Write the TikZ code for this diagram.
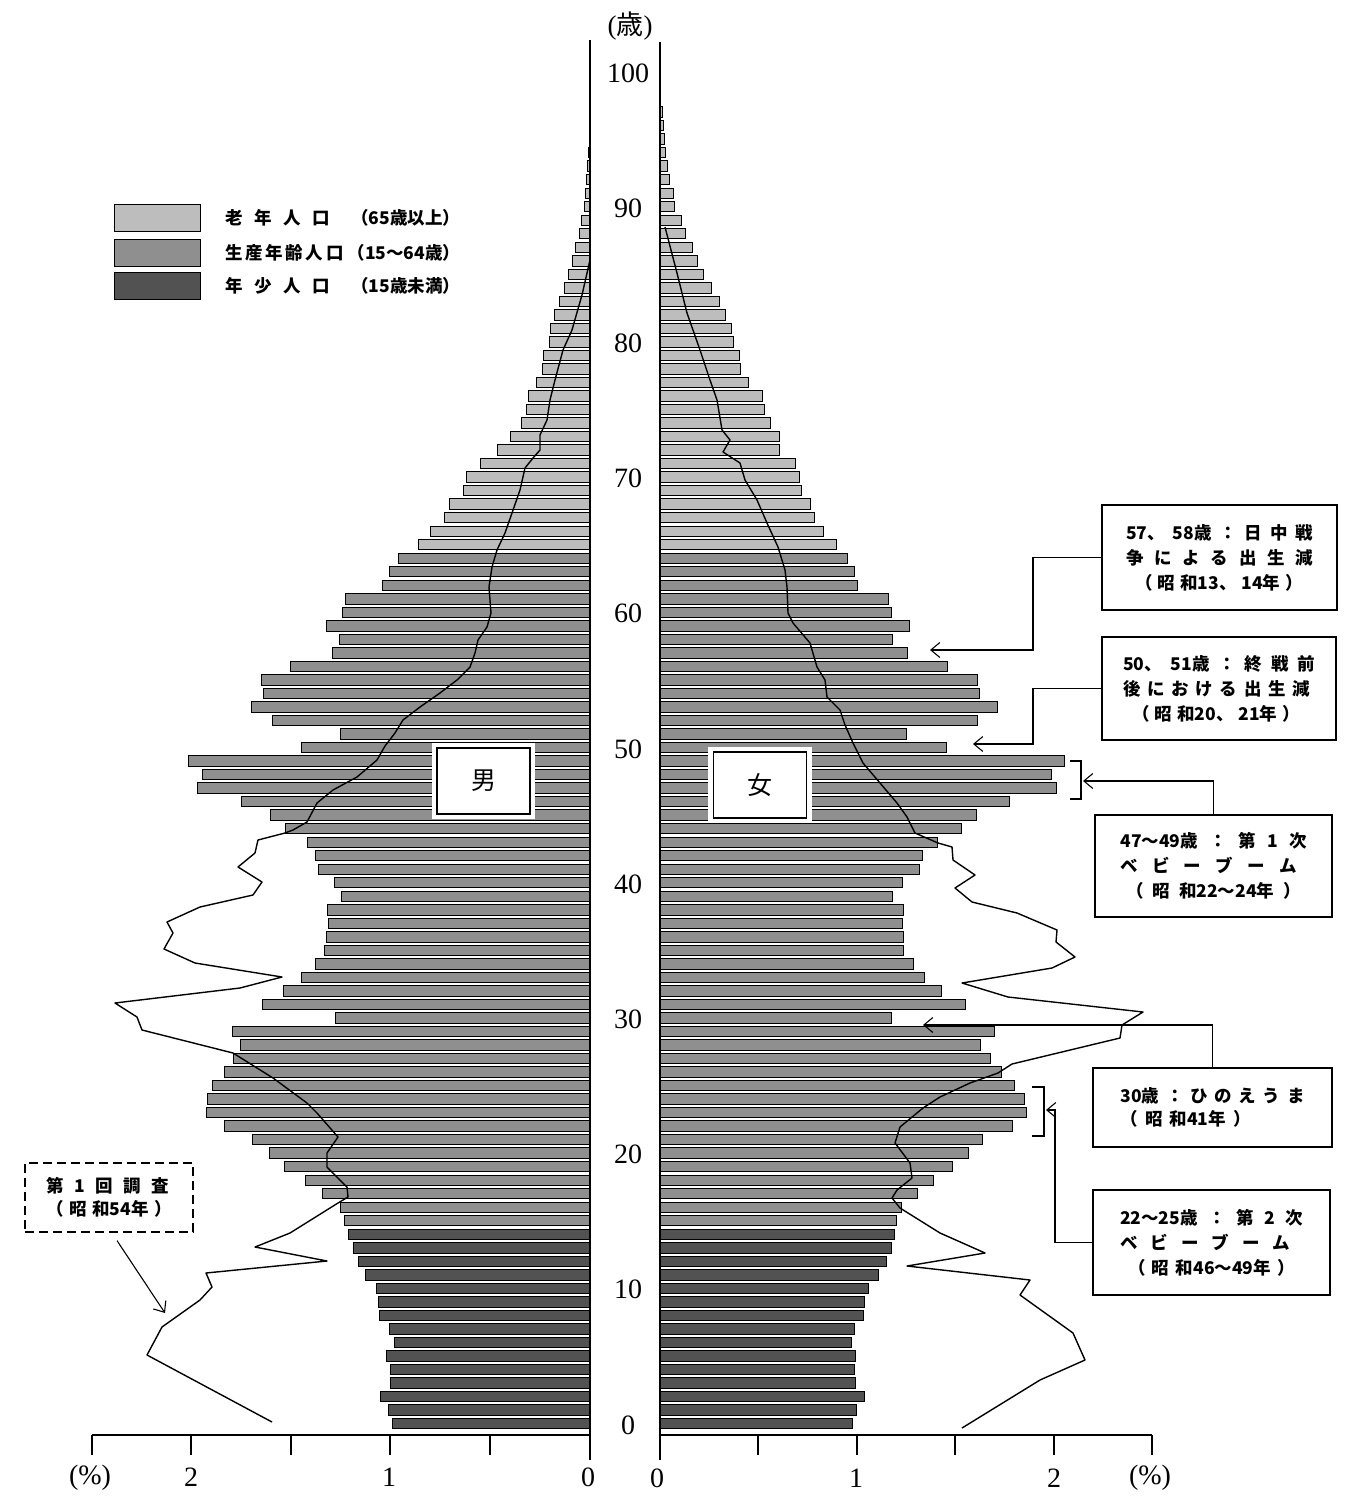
\documentclass[tikz,border=0pt]{standalone}
\usepackage{fontspec}
\setmainfont{Liberation Serif}
\newfontfamily\cjk{Noto Sans CJK JP}
\usetikzlibrary{arrows.meta}
\definecolor{oldc}{gray}{0.74}
\definecolor{workc}{gray}{0.56}
\definecolor{youngc}{gray}{0.32}
\newcommand\spr[2]{\makebox[#1][s]{#2}}
\begin{document}
\begin{tikzpicture}[x=1pt,y=-1pt,
  bar/.style={draw=black,line width=0.9pt},
  pcurve/.style={line width=1.4pt,line join=round},
  annbox/.style={draw,line width=1.2pt,inner sep=0pt,align=left,font=\cjk\bfseries\fontsize{17.5}{25}\selectfont},
  dbox/.style={draw,dash pattern=on 9pt off 5pt,line width=1.2pt,inner sep=0pt,align=left,font=\cjk\bfseries\fontsize{17.5}{23}\selectfont},
  agelab/.style={font=\fontsize{28}{28}\selectfont,inner sep=0pt},
  legbox/.style={draw,line width=1pt,minimum width=86pt,minimum height=27pt,inner sep=0pt},
  legtxt/.style={font=\cjk\bfseries\fontsize{17.5}{20}\selectfont,inner sep=0pt,anchor=west},
  sexbox/.style={draw,line width=1.8pt,fill=white,minimum width=93pt,minimum height=66pt,inner sep=0pt,font=\cjk\fontsize{25}{25}\selectfont},
  arr/.style={line width=1.1pt,-{Straight Barb[length=9pt,width=15pt,line width=1.1pt]}},
  brk/.style={line width=1.2pt}
]
\useasboundingbox (0,0) rectangle (1347,1496);
\fill[white] (0,0) rectangle (1347,1496);

% male bars
\foreach \ag/\bx in {0/390,1/387,2/379,3/389,4/389,5/385,6/393,7/388,8/378,9/377,10/375,11/364,12/357,13/352,14/347,15/343,16/339,17/321,18/305,19/284,20/269,21/252,22/224,23/206,24/207,25/212,26/224,27/233,28/240,29/232,30/335,31/262,32/283,33/301,34/316,35/325,36/327,37/329,38/328,39/342,40/335,41/319,42/316,43/308,44/286,45/271,46/242,47/198,48/203,49/189,50/303,51/342,52/274,53/253,54/265,55/263,56/292,57/334,58/341,59/328,60/344,61/347,62/384,63/391,64/400,65/420,66/433,67/447,68/452,69/466,70/469,71/483,72/500,73/513,74/524,75/529,76/531,77/539,78/545,79/546,80/552,81/553,82/557,83/563,84/568,85/572,86/576,87/579,88/583,89/585,90/588,91/589,92/590,93/591,94/592,95/593}{
  \pgfmathsetmacro\yc{1423.5-13.52*\ag}
  \pgfmathsetmacro\xl{\bx+2-0.0615*\ag}
  \pgfmathtruncatemacro\cat{\ag<15 ? 0 : (\ag<65 ? 1 : 2)}
  \ifcase\cat \def\bc{youngc}\or\def\bc{workc}\or\def\bc{oldc}\fi
  \filldraw[bar,fill=\bc] (\xl,{\yc-5.2}) rectangle (590,{\yc+5.2});
}
% female bars
\foreach \ag/\bx in {0/849,1/854,2/862,3/853,4/852,5/853,6/849,7/852,8/861,9/862,10/866,11/876,12/884,13/889,14/892,15/895,16/900,17/916,18/932,19/951,20/967,21/981,22/1011,23/1025,24/1023,25/1013,26/1000,27/989,28/979,29/994,30/891,31/965,32/941,33/924,34/913,35/903,36/903,37/902,38/903,39/892,40/902,41/919,42/922,43/938,44/962,45/977,46/1010,47/1057,48/1052,49/1065,50/947,51/907,52/978,53/998,54/980,55/978,56/948,57/909,58/894,59/911,60/893,61/890,62/859,63/856,64/849,65/838,66/825,67/816,68/812,69/803,70/801,71/798,72/782,73/782,74/773,75/767,76/765,77/751,78/743,79/742,80/736,81/734,82/728,83/722,84/714,85/707,86/701,87/696,88/689,89/685,90/678,91/677,92/673,93/671,94/669,95/668,96/667,97/666}{
  \pgfmathsetmacro\yc{1423.5-13.52*\ag}
  \pgfmathsetmacro\xr{\bx+3-0.0717*\ag}
  \pgfmathtruncatemacro\cat{\ag<15 ? 0 : (\ag<65 ? 1 : 2)}
  \ifcase\cat \def\bc{youngc}\or\def\bc{workc}\or\def\bc{oldc}\fi
  \filldraw[bar,fill=\bc] (660,{\yc-5.2}) rectangle (\xr,{\yc+5.2});
}

% central lines
\draw[line width=1.5pt] (590,40) -- (590,1460);
\draw[line width=1.5pt] (660,42) -- (660,1460);

% 1979 survey curves
\draw[pcurve] plot coordinates {(272,1422) (147,1355) (162,1327) (200,1300) (212,1287) (206,1273) (327,1261) (255,1247) (290,1233) (338,1203) (348,1197) (347,1187) (327,1167) (327,1153) (338,1137) (317,1113) (307,1103) (273,1078) (233,1053) (142,1030) (137,1017) (115,1003) (240,988) (282,977) (195,963) (164,949) (173,933) (167,922) (200,907) (253,895) (262,882) (238,867) (255,853) (258,840) (285,833) (293,830) (307,822) (317,803) (333,790) (357,777) (377,760) (385,746) (395,733) (403,720) (420,707) (440,693) (457,680) (470,667) (475,653) (478,640) (487,627) (491,613) (489,587) (492,567) (497,550) (505,533) (512,513) (520,490) (525,468) (533,458) (540,450) (540,435) (547,420) (550,400) (555,380) (563,350) (572,330) (582,295) (590,260)};
\draw[pcurve] plot coordinates {(962,1428) (1040,1380) (1085,1360) (1073,1333) (1020,1295) (1030,1280) (907,1266) (985,1253) (940,1233) (900,1208) (892,1198) (897,1190) (912,1178) (910,1163) (895,1143) (900,1127) (923,1108) (940,1097) (970,1083) (998,1073) (1012,1064) (1120,1038) (1122,1025) (1143,1012) (1008,997) (962,983) (1052,968) (1075,957) (1056,942) (1057,930) (1017,913) (972,902) (955,888) (975,875) (953,860) (952,847) (938,843) (915,833) (907,817) (897,803) (880,783) (863,763) (853,743) (845,725) (840,710) (827,697) (825,680) (817,667) (810,643) (793,623) (788,613) (787,587) (785,570) (778,547) (767,523) (757,500) (745,480) (740,463) (723,452) (730,440) (722,430) (717,400) (710,380) (700,350) (687,313) (677,273) (665,227)};

% bottom axes
\draw[line width=1.3pt] (92,1435) -- (590,1435);
\foreach \x in {92,191,291,390,490} \draw[line width=1.3pt] (\x,1435) -- (\x,1455);
\draw[line width=1.3pt] (660,1435) -- (1152,1435);
\foreach \x in {758,857,955,1054,1152} \draw[line width=1.3pt] (\x,1435) -- (\x,1455);
\node[agelab] (pl) at (90,1478) {(\%)};
\node[agelab] (m2) at (191,1477) {2};
\node[agelab] (m1) at (389,1477) {1};
\node[agelab] (m0) at (588,1477) {0};
\node[agelab] (f0) at (657,1478) {0};
\node[agelab] (f1) at (856,1478) {1};
\node[agelab] (f2) at (1054,1478) {2};
\node[agelab] (pr) at (1150,1478) {(\%)};

% age labels
\foreach \v in {0,10,...,100} \node[agelab] (age\v) at (628,{1425-13.52*\v}) {\v};
\node[font=\fontsize{27}{27}\selectfont,inner sep=0pt] (sai) at (630,26) {({\cjk 歳})};

% legend
\node[legbox,fill=oldc] (k1) at (157,217.5) {};
\node[legbox,fill=workc] (k2) at (157,252.5) {};
\node[legbox,fill=youngc] (k3) at (157,286) {};
\node[legtxt] (t1) at (225,217.5) {\makebox[235pt]{\spr{105pt}{老 年 人 口}\hfill（65歳以上）}};
\node[legtxt] (t2) at (225,252.5) {\makebox[235pt]{\spr{105pt}{生 産 年 齢 人 口}\hfill（15～64歳）}};
\node[legtxt] (t3) at (225,286) {\makebox[235pt]{\spr{105pt}{年 少 人 口}\hfill（15歳未満）}};

% sex labels
\fill[white] (432,743) rectangle (535,819);
\node[sexbox] (male) at (483.5,781) {男};
\fill[white] (708,747) rectangle (812,823);
\node[sexbox] (female) at (760,785) {女};

% annotation boxes
\node[annbox,minimum width=235pt,minimum height=105pt] (b1) at (1219.5,557.5)
  {\spr{187pt}{57、 58歳 ： 日 中 戦}\\ \spr{187pt}{争 に よ る 出 生 減}\\ \hspace*{9pt}\spr{168pt}{（ 昭 和13、 14年 ）}};
\node[annbox,minimum width=234pt,minimum height=103pt] (b2) at (1219,688.5)
  {\spr{192pt}{50、 51歳 ： 終 戦 前}\\ \spr{187pt}{後 に お け る 出 生 減}\\ \hspace*{9pt}\spr{168pt}{（ 昭 和20、 21年 ）}};
\node[annbox,minimum width=237pt,minimum height=102pt] (b3) at (1213.5,866)
  {\spr{186pt}{47～49歳 ： 第 1 次}\\ \spr{176pt}{ベ ビ ー ブ ー ム}\\ \hspace*{6pt}\spr{174pt}{（ 昭 和22～24年 ）}};
\node[annbox,minimum width=239pt,minimum height=79pt,font=\cjk\bfseries\fontsize{17.5}{23}\selectfont] (b4) at (1212.5,1107.5)
  {\spr{184pt}{30歳 ： ひ の え う ま}\\ \spr{130pt}{（ 昭 和41年 ）}};
\node[annbox,minimum width=237pt,minimum height=105pt] (b5) at (1211.5,1242.5)
  {\spr{183pt}{22～25歳 ： 第 2 次}\\ \spr{170pt}{ベ ビ ー ブ ー ム}\\ \hspace*{8pt}\spr{167pt}{（ 昭 和46～49年 ）}};
\node[dbox,minimum width=168pt,minimum height=69pt] (b6) at (109,1197.5)
  {\spr{123pt}{第 1 回 調 査}\\ \spr{126pt}{（ 昭 和54年 ）}};

% brackets
\draw[brk] (1070,761) -- (1081,761) -- (1081,799) -- (1070,799);
\draw[brk] (1032,1087) -- (1044,1087) -- (1044,1136) -- (1032,1136);

% connectors
\coordinate (e1) at (930,650);
\coordinate (e2) at (973,744);
\coordinate (e3) at (1083,781);
\coordinate (e4) at (923,1025);
\coordinate (e5) at (1046,1110);
\coordinate (e6) at (165,1313);
\draw[arr] (b1.west) -- (1033,557.5) |- (e1);
\draw[arr] (b2.west) -- (1033,688.5) |- (e2);
\draw[arr] (b3.north) |- (e3);
\draw[arr] (b4.north) |- (e4);
\draw[arr] (b5.west) -- (1055,1242.5) |- (e5);
\draw[arr] ([shift={(8,8)}]b6.south) -- (e6);
\end{tikzpicture}
\end{document}
